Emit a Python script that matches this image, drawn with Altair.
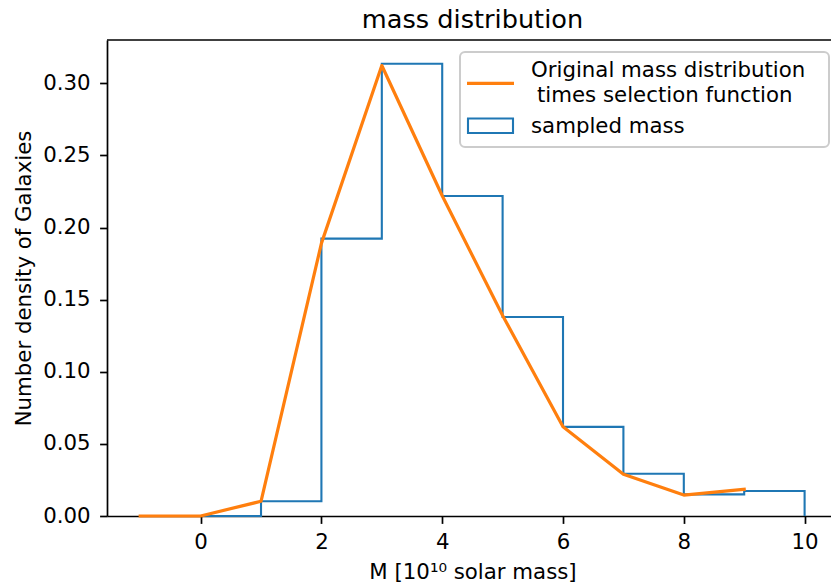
import altair as alt
import pandas as pd

# ---- data ----
bin_edges = [0, 1, 2, 3, 4, 5, 6, 7, 8, 9, 10]
hist_density = [0.0, 0.0102, 0.1923, 0.3135, 0.2218, 0.1380, 0.0618, 0.0293, 0.0150, 0.0173]

curve_mass = [-1, 0, 1, 2, 3, 4, 5, 6, 7, 8, 9]
curve_density = [0.0, 0.0, 0.0102, 0.189, 0.3123, 0.2220, 0.1390, 0.0618, 0.0290, 0.0145, 0.0185]

x_ticks = [0, 2, 4, 6, 8, 10]
y_ticks = [0.0, 0.05, 0.10, 0.15, 0.20, 0.25, 0.30]

legend_labels = ["Original mass distribution", "times selection function", "sampled mass"]

title_text = "mass distribution"
x_title = "M [10\u00b9\u2070 solar mass]"
y_title = "Number density of Galaxies"

BLUE = "#1f77b4"
ORANGE = "#ff7f0e"
FONT = "DejaVu Sans"
FS = 21.3

# step outline of the histogram (matplotlib histtype='step')
xs, ys = [bin_edges[0]], [0.0]
for k, v in enumerate(hist_density):
    xs += [bin_edges[k], bin_edges[k + 1]]
    ys += [v, v]
xs.append(bin_edges[-1])
ys.append(0.0)
hist_df = pd.DataFrame({"x": xs, "y": ys, "i": list(range(len(xs)))})
curve_df = pd.DataFrame({"x": curve_mass, "y": curve_density, "i": list(range(len(curve_mass)))})

W, H = 724, 476

x_scale = alt.Scale(domain=[-1.55, 10.437], nice=False, zero=False)
y_scale = alt.Scale(domain=[0, 0.33], nice=False, zero=False)

x_axis = alt.Axis(
    title=x_title, values=x_ticks, format="d", grid=False,
    tickSize=7.4, tickWidth=1.7, domainWidth=1.7, labelPadding=8,
    titleX=365.5, titleY=62, titleAlign="center", titleBaseline="alphabetic",
)
y_axis = alt.Axis(
    title=y_title, values=y_ticks, format=".2f", grid=False,
    tickSize=7.4, tickWidth=1.7, domainWidth=1.7, labelPadding=9.5,
    titleX=-77, titleY=238, titleAngle=270, titleAlign="center", titleBaseline="alphabetic",
)

hist = alt.Chart(hist_df).mark_line(color=BLUE, strokeWidth=2.1, strokeJoin="miter").encode(
    x=alt.X("x:Q", scale=x_scale, axis=x_axis),
    y=alt.Y("y:Q", scale=y_scale, axis=y_axis),
    order="i:Q",
)

curve = alt.Chart(curve_df).mark_line(color=ORANGE, strokeWidth=3.2, strokeJoin="round", strokeCap="square").encode(
    x=alt.X("x:Q", scale=x_scale),
    y=alt.Y("y:Q", scale=y_scale),
    order="i:Q",
)

one = pd.DataFrame({"k": [0]})

top_spine = alt.Chart(one).mark_rule(color="black", strokeWidth=1.7).encode(
    x=alt.value(0), x2=alt.value(W), y=alt.value(0)
)

legend_frame = alt.Chart(one).mark_rect(
    fill="white", fillOpacity=0.8, stroke="#cccccc", strokeWidth=2, cornerRadius=5
).encode(x=alt.value(353), x2=alt.value(722), y=alt.value(12), y2=alt.value(107))

legend_line = alt.Chart(one).mark_rule(color=ORANGE, strokeWidth=3.2, strokeCap="butt").encode(
    x=alt.value(360), x2=alt.value(407), y=alt.value(43.3)
)

legend_patch = alt.Chart(one).mark_rect(fill="white", stroke=BLUE, strokeWidth=2.1).encode(
    x=alt.value(361), x2=alt.value(406), y=alt.value(78.5), y2=alt.value(93)
)

def legend_text(label, x, y):
    return alt.Chart(pd.DataFrame({"t": [label]})).mark_text(
        font=FONT, fontSize=FS, color="black", align="left", baseline="alphabetic"
    ).encode(text="t:N", x=alt.value(x), y=alt.value(y))

chart = alt.layer(
    hist, curve, top_spine, legend_frame, legend_line, legend_patch,
    legend_text(legend_labels[0], 424, 36.7),
    legend_text(legend_labels[1], 430, 61.7),
    legend_text(legend_labels[2], 424, 92.7),
).properties(
    width=W, height=H,
    background="white",
    title=alt.TitleParams(
        text=title_text, font=FONT, fontSize=25.6, fontWeight="normal", color="black",
        anchor="middle", baseline="alphabetic", offset=-14.6, dx=3.5,
    ),
    autosize=alt.AutoSizeParams(type="none"),
    padding={"left": 107, "top": 40, "right": 0, "bottom": 71},
).configure_view(stroke=None).configure_axis(
    labelFont=FONT, labelFontSize=FS, labelColor="black",
    titleFont=FONT, titleFontSize=FS, titleFontWeight="normal", titleColor="black",
    tickColor="black", domainColor="black",
)

chart.save("out.html", embed_options={"renderer": "svg", "actions": False})
